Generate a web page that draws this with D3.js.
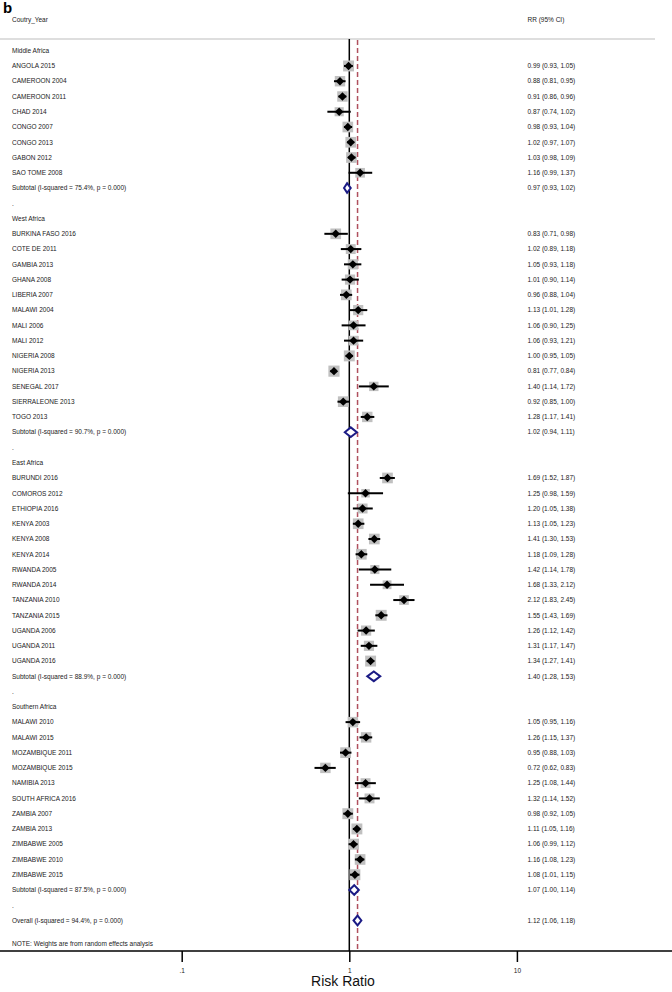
<!DOCTYPE html>
<html><head><meta charset="utf-8">
<script src="https://cdn.jsdelivr.net/npm/d3@7"></script>
<style>
html,body{margin:0;padding:0;background:#fff;}
svg{display:block;}
text{font-family:"Liberation Sans",Arial,Helvetica,sans-serif;fill:#222;}
</style></head><body>
<svg id="chart" width="672" height="992"></svg>
<script>
// ---------- data ----------
const regionNames = ["Middle Africa", "West Africa", "East Africa", "Southern Africa"];
const studyLabels = [
  "ANGOLA 2015","CAMEROON 2004","CAMEROON 2011","CHAD 2014","CONGO 2007","CONGO 2013","GABON 2012","SAO TOME 2008",
  "BURKINA FASO 2016","COTE DE 2011","GAMBIA 2013","GHANA 2008","LIBERIA 2007","MALAWI 2004","MALI 2006","MALI 2012","NIGERIA 2008","NIGERIA 2013","SENEGAL 2017","SIERRALEONE 2013","TOGO 2013",
  "BURUNDI 2016","COMOROS 2012","ETHIOPIA 2016","KENYA 2003","KENYA 2008","KENYA 2014","RWANDA 2005","RWANDA 2014","TANZANIA 2010","TANZANIA 2015","UGANDA 2006","UGANDA 2011","UGANDA 2016",
  "MALAWI 2010","MALAWI 2015","MOZAMBIQUE 2011","MOZAMBIQUE 2015","NAMIBIA 2013","SOUTH AFRICA 2016","ZAMBIA 2007","ZAMBIA 2013","ZIMBABWE 2005","ZIMBABWE 2010","ZIMBABWE 2015"
];
const studyRegion = [
  0,0,0,0,0,0,0,0,
  1,1,1,1,1,1,1,1,1,1,1,1,1,
  2,2,2,2,2,2,2,2,2,2,2,2,2,
  3,3,3,3,3,3,3,3,3,3,3
];
const studyRR = [
  0.99,0.88,0.91,0.87,0.98,1.02,1.03,1.16,
  0.83,1.02,1.05,1.01,0.96,1.13,1.06,1.06,1.00,0.81,1.40,0.92,1.28,
  1.69,1.25,1.20,1.13,1.41,1.18,1.42,1.68,2.12,1.55,1.26,1.31,1.34,
  1.05,1.26,0.95,0.72,1.25,1.32,0.98,1.11,1.06,1.16,1.08
];
const studyLow = [
  0.93,0.81,0.86,0.74,0.93,0.97,0.98,0.99,
  0.71,0.89,0.93,0.90,0.88,1.01,0.90,0.93,0.95,0.77,1.14,0.85,1.17,
  1.52,0.98,1.05,1.05,1.30,1.09,1.14,1.33,1.83,1.43,1.12,1.17,1.27,
  0.95,1.15,0.88,0.62,1.08,1.14,0.92,1.05,0.99,1.08,1.01
];
const studyHigh = [
  1.05,0.95,0.96,1.02,1.04,1.07,1.09,1.37,
  0.98,1.18,1.18,1.14,1.04,1.28,1.25,1.21,1.05,0.84,1.72,1.00,1.41,
  1.87,1.59,1.38,1.23,1.53,1.28,1.78,2.12,2.45,1.69,1.42,1.47,1.41,
  1.16,1.37,1.03,0.83,1.44,1.52,1.05,1.16,1.12,1.23,1.15
];
// estimated % weights (random effects)
const studyWeight = [
  2.3,2.1,2.1,1.6,2.2,2.2,2.2,1.8,
  2.2,1.9,2.0,2.0,2.2,2.0,1.8,1.8,2.3,2.4,1.7,2.2,2.1,
  2.2,1.4,1.9,2.2,2.2,2.2,1.6,1.5,1.8,2.3,2.0,2.0,2.3,
  2.1,2.1,2.2,2.1,1.9,1.9,2.3,2.3,2.3,2.2,2.3
];
const subtotalI2 = ["75.4%","90.7%","88.9%","87.5%"];
const subtotalRR = [0.97,1.02,1.40,1.07];
const subtotalLow = [0.93,0.94,1.28,1.00];
const subtotalHigh = [1.02,1.11,1.53,1.14];
const overallI2 = "94.4%";
const overallRR = 1.12, overallLow = 1.06, overallHigh = 1.18;
const tickValues = [0.1, 1, 10];
const tickLabels = [".1", "1", "10"];
const noteText = "NOTE: Weights are from random effects analysis";

// ---------- build rows ----------
const rows = [];
regionNames.forEach((rn, ri) => {
  rows.push({type:"header", label: rn});
  studyLabels.forEach((s, i) => {
    if (studyRegion[i] === ri) rows.push({type:"study", label:s, rr:studyRR[i], lo:studyLow[i], hi:studyHigh[i], w:studyWeight[i]});
  });
  rows.push({type:"sub", label:"Subtotal  (I-squared = " + subtotalI2[ri] + ", p = 0.000)", rr:subtotalRR[ri], lo:subtotalLow[ri], hi:subtotalHigh[ri]});
  rows.push({type:"blank", label:"."});
});
rows.push({type:"sub", label:"Overall  (I-squared = " + overallI2 + ", p = 0.000)", rr:overallRR, lo:overallLow, hi:overallHigh});

// ---------- scales ----------
const svg = d3.select("#chart");
const x = d3.scaleLog().domain([0.1, 10]).range([181.7, 516.9]);
const y = d3.scaleLinear().domain([0, 57]).range([50.7, 920.5]);
const box = d3.scaleSqrt().domain([0, 1]).range([0, 7.2]);
const fmt = d3.format(".2f");
const ciText = (r, l, h) => fmt(r) + " (" + fmt(l) + ", " + fmt(h) + ")";

const topY = 39, axisY = 951;
const FS = "6.5px";

// panel letter
svg.append("text").attr("x", 3).attr("y", 13).attr("font-size", "15px").attr("font-weight", "bold")
  .style("fill", "#000").text("b");
// headers
svg.append("text").attr("x", 12).attr("y", 20).attr("dy", "0.35em").attr("font-size", FS).text("Coutry_Year");
svg.append("text").attr("x", 527.5).attr("y", 20).attr("dy", "0.35em").attr("font-size", FS).text("RR (95% CI)");
// top rule
svg.append("line").attr("x1", 0).attr("x2", 655).attr("y1", topY).attr("y2", topY)
  .attr("stroke", "#bdbdbd").attr("stroke-width", 1.2);

// null line
svg.append("line").attr("x1", x(1)).attr("x2", x(1)).attr("y1", topY).attr("y2", axisY)
  .attr("stroke", "#000").attr("stroke-width", 1.5);
// overall dashed line
svg.append("line").attr("x1", x(overallRR)).attr("x2", x(overallRR)).attr("y1", topY + 1).attr("y2", axisY)
  .attr("stroke", "#b0505e").attr("stroke-width", 1.5).attr("stroke-dasharray", "5,3");

// rows
const g = svg.append("g");
rows.forEach((r, i) => {
  const yy = y(i);
  g.append("text").attr("x", 12).attr("y", yy).attr("dy", "0.35em").attr("font-size", FS).text(r.label);
  if (r.type === "study") {
    const s = box(r.w);
    g.append("rect").attr("x", x(r.rr) - s/2).attr("y", yy - s/2).attr("width", s).attr("height", s)
      .attr("fill", "#c0c0c0");
    g.append("line").attr("x1", x(r.lo)).attr("x2", x(r.hi)).attr("y1", yy).attr("y2", yy)
      .attr("stroke", "#000").attr("stroke-width", 2);
    const d = 4.2, cx = x(r.rr);
    g.append("path").attr("d", `M${cx-d},${yy}L${cx},${yy-d}L${cx+d},${yy}L${cx},${yy+d}Z`).attr("fill", "#000");
    g.append("text").attr("x", 527.5).attr("y", yy).attr("dy", "0.35em").attr("font-size", FS).text(ciText(r.rr, r.lo, r.hi));
  } else if (r.type === "sub") {
    const h = 4.8;
    g.append("path").attr("d", `M${x(r.lo)},${yy}L${x(r.rr)},${yy-h}L${x(r.hi)},${yy}L${x(r.rr)},${yy+h}Z`)
      .attr("fill", "#fff").attr("stroke", "#1b1b85").attr("stroke-width", 2).attr("stroke-linejoin", "miter");
    g.append("text").attr("x", 527.5).attr("y", yy).attr("dy", "0.35em").attr("font-size", FS).text(ciText(r.rr, r.lo, r.hi));
  }
});
// note
svg.append("text").attr("x", 12).attr("y", 944).attr("dy", "0.35em").attr("font-size", FS).text(noteText);

// axis
svg.append("line").attr("x1", 0).attr("x2", 672).attr("y1", axisY).attr("y2", axisY)
  .attr("stroke", "#000").attr("stroke-width", 1.5);
const axis = d3.axisBottom(x).tickValues(tickValues).tickFormat((d, i) => tickLabels[i]).tickSize(11).tickPadding(6);
const ag = svg.append("g").attr("transform", `translate(0,${axisY})`).call(axis);
ag.select(".domain").remove();
ag.selectAll(".tick line").attr("stroke", "#000").attr("stroke-width", 1.5);
ag.selectAll(".tick text").attr("font-size", FS).attr("font-family", "Liberation Sans, Arial, sans-serif").style("fill", "#222");
svg.append("text").attr("x", 343).attr("y", 986).attr("text-anchor", "middle").attr("font-size", "14px")
  .style("fill", "#111").text("Risk Ratio");
</script>
</body></html>
